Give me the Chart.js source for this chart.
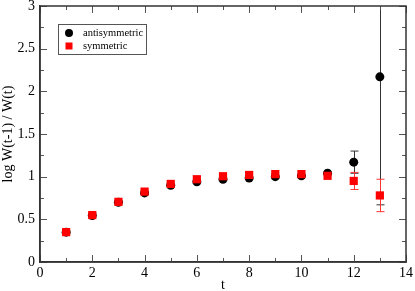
<!DOCTYPE html>
<html>
<head>
<meta charset="utf-8">
<script src="https://cdn.jsdelivr.net/npm/chart.js@4"></script>
<style>
    html, body { margin: 0; padding: 0; background: #fff; }
    #wrap { width: 415px; height: 291px; }
</style>
</head>
<body>
<div id="wrap"><canvas id="chart"></canvas></div>
<script>
const T = [1, 2, 3, 4, 5, 6, 7, 8, 9, 10, 11, 12, 13];

const antiValues = [0.35, 0.545, 0.70, 0.81, 0.90, 0.94, 0.97, 0.985, 1.0, 1.01, 1.04, 1.17, 2.17];
const antiErrors = [0.01, 0.01, 0.01, 0.01, 0.01, 0.01, 0.01, 0.01, 0.015, 0.02, 0.03, 0.13, 1.5];

const symValues = [0.35, 0.55, 0.705, 0.825, 0.915, 0.97, 1.005, 1.02, 1.03, 1.03, 1.01, 0.95, 0.78];
const symErrors = [0.01, 0.01, 0.01, 0.01, 0.01, 0.01, 0.01, 0.01, 0.015, 0.02, 0.025, 0.1, 0.19];

const xTicks = [0, 2, 4, 6, 8, 10, 12, 14];
const yTicks = [0, 0.5, 1, 1.5, 2, 2.5, 3];

const FONT = "'Liberation Serif', 'DejaVu Serif', serif";

function toPoints(values) {
    return T.map((t, i) => ({ x: t, y: values[i] }));
}

// error bars drawn from the errors arrays through the chart scales
const errorBars = {
    id: "errorBars",
    beforeDatasetsDraw(chart) {
        const { ctx, chartArea, scales: { x, y } } = chart;
        ctx.save();
        ctx.beginPath();
        ctx.rect(chartArea.left, chartArea.top, chartArea.width, chartArea.height);
        ctx.clip();
        chart.data.datasets.forEach(ds => {
            ctx.strokeStyle = ds.errorColor;
            ctx.lineWidth = 1;
            ds.data.forEach((p, i) => {
                const e = ds.errors[i];
                const px = Math.round(x.getPixelForValue(p.x)) + 0.5;
                const top = y.getPixelForValue(p.y + e);
                const bot = y.getPixelForValue(p.y - e);
                ctx.beginPath();
                ctx.moveTo(px, top);
                ctx.lineTo(px, bot);
                if (e > 0.05) {
                    ctx.moveTo(px - 4, top);
                    ctx.lineTo(px + 4, top);
                    ctx.moveTo(px - 4, bot);
                    ctx.lineTo(px + 4, bot);
                }
                ctx.stroke();
            });
        });
        ctx.restore();
    }
};

// frame, inner ticks on every side, legend box
const frame = {
    id: "frame",
    afterDraw(chart) {
        const { ctx, chartArea: a, scales: { x, y } } = chart;
        ctx.save();
        ctx.strokeStyle = "#555";
        ctx.lineWidth = 1;
        for (let v = 0; v <= 14; v += 1) {
            const len = v % 2 === 0 ? 7 : 4;
            const px = Math.round(x.getPixelForValue(v)) + 0.5;
            ctx.beginPath();
            ctx.moveTo(px, a.bottom); ctx.lineTo(px, a.bottom - len);
            ctx.moveTo(px, a.top); ctx.lineTo(px, a.top + len);
            ctx.stroke();
        }
        for (let v = 0; v <= 3; v += 0.25) {
            const len = (v * 2) % 1 === 0 ? 7 : 4;
            const py = Math.round(y.getPixelForValue(v)) + 0.5;
            ctx.beginPath();
            ctx.moveTo(a.left, py); ctx.lineTo(a.left + len, py);
            ctx.moveTo(a.right, py); ctx.lineTo(a.right - len, py);
            ctx.stroke();
        }
        ctx.strokeStyle = "#333";
        ctx.lineWidth = 1.5;
        ctx.strokeRect(a.left, a.top, a.width, a.height);

        // legend
        ctx.lineWidth = 1;
        ctx.strokeStyle = "#555";
        ctx.fillStyle = "#fff";
        ctx.fillRect(58.5, 24.5, 88, 30);
        ctx.strokeRect(58.5, 24.5, 88, 30);
        ctx.font = "10.5px " + FONT;
        ctx.textBaseline = "middle";
        chart.data.datasets.forEach((ds, i) => {
            const ly = 33 + i * 13;
            ctx.fillStyle = ds.backgroundColor;
            if (ds.pointStyle === "rect") {
                ctx.fillRect(65.5, ly - 3.5, 7, 7);
            } else {
                ctx.beginPath();
                ctx.arc(69, ly, 4, 0, Math.PI * 2);
                ctx.fill();
            }
            ctx.fillStyle = "#000";
            ctx.fillText(ds.label, 83, ly);
        });
        ctx.restore();
    }
};

new Chart(document.getElementById("chart"), {
    type: "scatter",
    data: {
        datasets: [
            {
                label: "antisymmetric",
                data: toPoints(antiValues),
                errors: antiErrors,
                errorColor: "#333",
                backgroundColor: "#000",
                borderColor: "#000",
                pointStyle: "circle",
                pointRadius: 4.5,
                borderWidth: 0,
                order: 2
            },
            {
                label: "symmetric",
                data: toPoints(symValues),
                errors: symErrors,
                errorColor: "#f33",
                backgroundColor: "#f00",
                borderColor: "#f00",
                pointStyle: "rect",
                pointRadius: 5.8,
                borderWidth: 0,
                order: 1
            }
        ]
    },
    options: {
        responsive: true,
        maintainAspectRatio: false,
        animation: false,
        layout: { padding: { top: 6, right: 9, left: 0, bottom: 0 } },
        plugins: {
            legend: { display: false },
            tooltip: { enabled: false }
        },
        scales: {
            x: {
                type: "linear",
                min: 0,
                max: 14,
                afterBuildTicks: s => { s.ticks = xTicks.map(v => ({ value: v })); },
                afterFit: s => { s.height = 29; s.paddingLeft = 0; s.paddingRight = 0; },
                grid: { display: false, drawTicks: false },
                border: { color: "#333", width: 1.5 },
                ticks: {
                    color: "#000",
                    padding: 3,
                    font: { family: FONT, size: 14 },
                    callback: v => String(v)
                },
                title: {
                    display: true,
                    text: "t",
                    color: "#000",
                    padding: { top: 0, bottom: -3 },
                    font: { family: FONT, size: 14 }
                }
            },
            y: {
                type: "linear",
                min: 0,
                max: 3,
                afterBuildTicks: s => { s.ticks = yTicks.map(v => ({ value: v })); },
                afterFit: s => { s.width = 40; s.paddingTop = 0; s.paddingBottom = 0; },
                grid: { display: false, drawTicks: false },
                border: { color: "#333", width: 1.5 },
                ticks: {
                    color: "#000",
                    padding: 5,
                    font: { family: FONT, size: 14 },
                    callback: v => String(v)
                },
                title: {
                    display: true,
                    text: "log W(t-1) / W(t)",
                    color: "#000",
                    padding: 0,
                    font: { family: FONT, size: 14 }
                }
            }
        }
    },
    plugins: [errorBars, frame]
});
</script>
</body>
</html>
